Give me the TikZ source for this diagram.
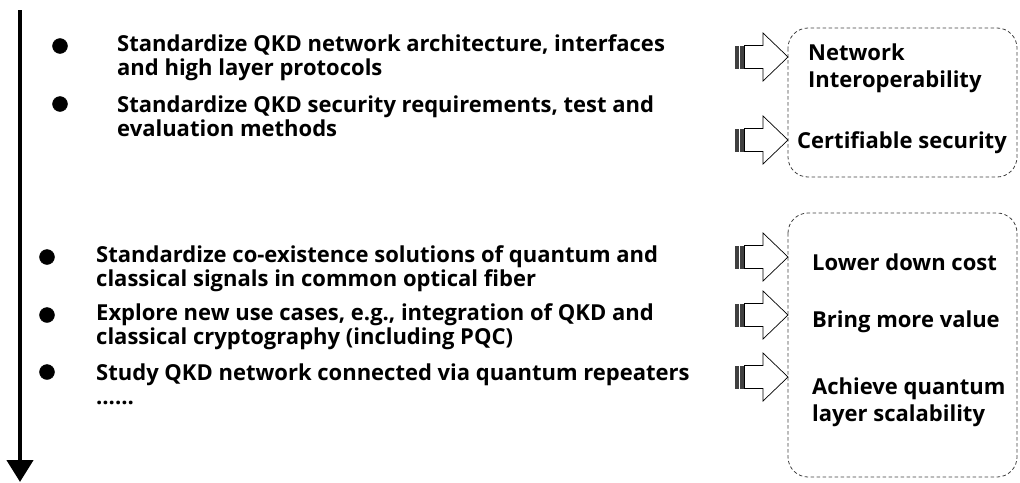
\documentclass[tikz,border=0pt]{standalone}
\usepackage{fontspec}
\setmainfont{Open Sans}
\usetikzlibrary{arrows.meta}
\tikzset{
  item/.style={anchor=west, align=left, inner sep=0pt,
    font=\bfseries\fontsize{22}{24}\selectfont},
  result/.style={anchor=west, align=left, inner sep=0pt,
    font=\bfseries\fontsize{22}{27}\selectfont},
  bulletdot/.style={circle, fill=black, draw=black, inner sep=0pt, minimum size=15pt},
  groupbox/.style={draw=black!75, dash pattern=on 3.5pt off 2.5pt, line width=0.8pt,
    rounded corners=20pt},
  blockarrow/.pic={
    \fill[black!75] (0,-11.5) rectangle (9.5,11.5);
    \draw[white, line width=1.5pt] (4.5,-11.5) -- (4.5,11.5);
    \draw[line width=0.7pt, fill=white] (9.5,-11.5) -- (28,-11.5) -- (28,-24)
      -- (53,0) -- (28,24) -- (28,11.5) -- (9.5,11.5) -- cycle;
  }
}
\begin{document}
\begin{tikzpicture}[x=1pt, y=-1pt]
\useasboundingbox (0,0) rectangle (1020,482);

% time line
\coordinate (top) at (20,10);
\coordinate (bottom) at (20,482);
\draw[line width=4.5pt, -{Triangle[length=22pt, width=26pt]}] (top) -- (bottom);

% first group of items
\node[bulletdot] (b1) at (60,46) {};
\node[item] (t1) at (117,58) {Standardize QKD network architecture, interfaces\\and high layer protocols};
\node[bulletdot] (b2) at (60,104) {};
\node[item] (t2) at (117,116) {Standardize QKD security requirements, test and\\evaluation methods};

% second group of items
\node[bulletdot] (b3) at (47,257) {};
\node[item] (t3) at (96,269) {Standardize co-existence solutions of quantum and\\classical signals in common optical fiber};
\node[bulletdot] (b4) at (47,315) {};
\node[item] (t4) at (96,327) {Explore new use cases, e.g., integration of QKD and\\classical cryptography (including PQC)};
\node[bulletdot] (b5) at (47,372) {};
\node[item] (t5) at (96,384) {Study QKD network connected via quantum repeaters\\……};

% outcome boxes
\draw[groupbox] (788,28) rectangle (1017,177);
\draw[groupbox] (788,213) rectangle (1017,477);

\pic at (735,57) {blockarrow};
\pic at (735,140) {blockarrow};
\pic at (735,257) {blockarrow};
\pic at (735,315) {blockarrow};
\pic at (735,377) {blockarrow};

\node[result] (r1) at (808,68) {Network\\Interoperability};
\node[result] (r2) at (797,143) {Certifiable security};
\node[result] (r3) at (812,262) {Lower down cost};
\node[result] (r4) at (812,322) {Bring more value};
\node[result] (r5) at (812,402) {Achieve quantum\\layer scalability};
\end{tikzpicture}
\end{document}
